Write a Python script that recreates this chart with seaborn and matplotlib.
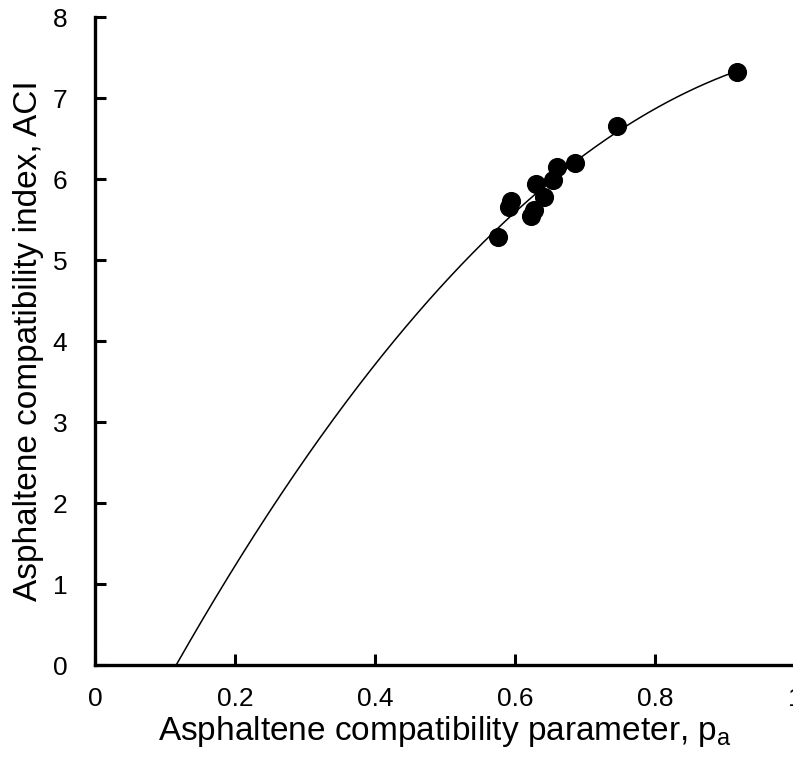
import numpy as np
import pandas as pd
import matplotlib
matplotlib.use("Agg")
import matplotlib.pyplot as plt
import seaborn as sns

# Measured data points (p_a, ACI)
pa_values = [0.917, 0.746, 0.686, 0.660, 0.654, 0.630, 0.641, 0.627, 0.623, 0.595, 0.592, 0.576]
aci_values = [7.32, 6.65, 6.20, 6.15, 5.99, 5.94, 5.78, 5.62, 5.54, 5.73, 5.65, 5.28]

# Fitted curve coefficients: ACI = b*(p - p0) + c*(p - p0)^2
fit_p0 = 0.116
fit_b = 15.21
fit_c = -7.56
fit_p_end = 0.917

x_ticks = [0, 0.2, 0.4, 0.6, 0.8, 1]
x_tick_labels = ["0", "0.2", "0.4", "0.6", "0.8", "1"]
y_ticks = [0, 1, 2, 3, 4, 5, 6, 7, 8]

sns.set_theme(style="white")
plt.rcParams['font.family'] = ['Liberation Sans', 'DejaVu Sans']
plt.rcParams['mathtext.fontset'] = 'custom'
plt.rcParams['mathtext.rm'] = 'Liberation Sans'

fig = plt.figure(figsize=(7.93, 7.57), dpi=100)
ax = fig.add_axes([0.1198, 0.1215, 0.8827, 0.856])

px = np.linspace(fit_p0, fit_p_end, 300)
py = fit_b * (px - fit_p0) + fit_c * (px - fit_p0) ** 2
curve = pd.DataFrame({"p": px, "aci": py})
sns.lineplot(data=curve, x="p", y="aci", ax=ax, color="black", linewidth=1.1)

pts = pd.DataFrame({"p": pa_values, "aci": aci_values})
sns.scatterplot(data=pts, x="p", y="aci", ax=ax, color="black", s=190, edgecolor="black", linewidth=0, zorder=3)

ax.set_xlim(0, 1)
ax.set_ylim(0, 8)
ax.set_xticks(x_ticks)
ax.set_xticklabels(x_tick_labels)
ax.set_yticks(y_ticks)
ax.tick_params(axis="both", direction="in", length=8, width=2.2, labelsize=19, color="black", labelcolor="black")
ax.tick_params(axis="x", top=False, bottom=True, pad=16)
ax.tick_params(axis="y", left=True, right=False, pad=20)

for side in ["top", "right"]:
    ax.spines[side].set_visible(False)
for side in ["left", "bottom"]:
    ax.spines[side].set_color("black")
    ax.spines[side].set_linewidth(2.4)

ax.set_xlabel(r"Asphaltene compatibility parameter, p$\mathregular{_a}$", fontsize=24, color="black", labelpad=2)
ax.set_ylabel("Asphaltene compatibility index, ACI", fontsize=24, color="black", labelpad=6)

fig.savefig("out.png", dpi=100)
